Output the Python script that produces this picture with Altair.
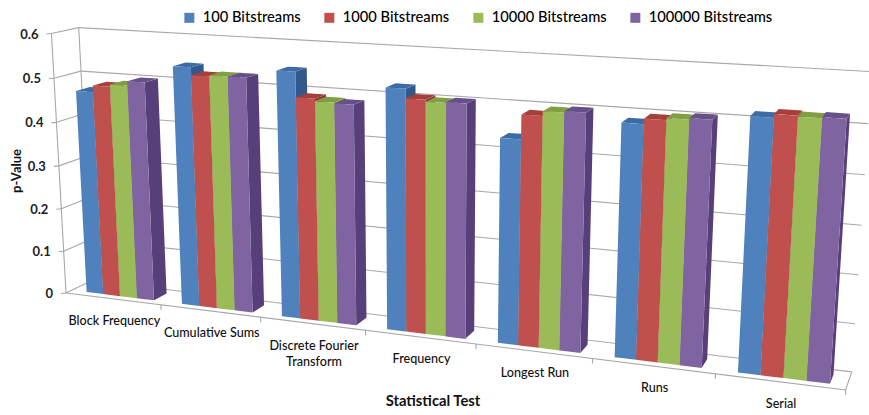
import numpy as np
import pandas as pd
import altair as alt

# Chart values
categories = ["Block Frequency", "Cumulative Sums", "Discrete Fourier\nTransform",
              "Frequency", "Longest Run", "Runs", "Serial"]
series = ["100 Bitstreams", "1000 Bitstreams", "10000 Bitstreams", "100000 Bitstreams"]
v100 = [0.47, 0.54, 0.545, 0.524, 0.436, 0.485, 0.515]
v1000 = [0.485, 0.523, 0.49, 0.504, 0.487, 0.496, 0.522]
v10000 = [0.49, 0.525, 0.485, 0.50, 0.497, 0.50, 0.52]
v100000 = [0.50, 0.525, 0.483, 0.502, 0.50, 0.503, 0.522]
values = [v100, v1000, v10000, v100000]
ticks = [0, 0.1, 0.2, 0.3, 0.4, 0.5, 0.6]
tick_labels = ["0", "0.1", "0.2", "0.3", "0.4", "0.5", "0.6"]

front = ["#4f81bd", "#c0504d", "#9bbb59", "#8064a2"]
side = ["#33598c", "#8e3634", "#6f8a3c", "#57407a"]
top = ["#3c6ba6", "#a63f3c", "#7f9f42", "#66508a"]

# Perspective camera for the 3D box: (category, p-value, depth) -> page position.
# Depth 0 is the front edge of the floor, depth 1 is the back wall.
anchors = [
    ((0, 0.0, 0), (69, 293)), ((0, 0.1, 0), (63, 250)), ((0, 0.2, 0), (60, 207)),
    ((0, 0.5, 0), (53, 78)), ((0, 0.6, 0), (50, 34)),
    ((0, 0.0, 1), (90, 281)), ((0, 0.1, 1), (88, 241)), ((0, 0.5, 1), (83, 71)),
    ((0, 0.6, 1), (80, 28)),
    ((1, 0, 0), (163, 305)), ((2, 0, 0), (262, 317)), ((3, 0, 0), (365, 330)),
    ((4, 0, 0), (476, 345)), ((5, 0, 0), (592, 360)), ((6, 0, 0), (713, 375)),
    ((7, 0, 0), (847, 390)),
    ((7, 0.0, 1), (852, 370)), ((7, 0.1, 1), (855, 323)), ((7, 0.4, 1), (865, 174)),
    ((7, 0.5, 1), (869, 124)), ((7, 0.6, 1), (871, 72)),
]


def fit_camera(pairs):
    rows = []
    for (c, p, d), (u, v) in pairs:
        h = [c / 7, p / 0.6, d, 1]
        u, v = u / 1000, v / 1000
        rows.append(h + [0, 0, 0, 0] + [-u * a for a in h])
        rows.append([0, 0, 0, 0] + h + [-v * a for a in h])
    return np.linalg.svd(np.array(rows))[2][-1].reshape(3, 4)


CAM = fit_camera(anchors)


def project(c, p, d):
    q = CAM @ np.array([c / 7, p / 0.6, d, 1])
    return (1000 * q[0] / q[2], 1000 * q[1] / q[2])


BAR_START = 0.16
BAR_WIDTH = 0.178
DEPTH_A, DEPTH_B = 0.22, 0.74


def polygon_rows(points, name, part):
    """Turn a convex polygon into x / y / y2 rows for an area mark."""
    xs = sorted({round(p[0], 3) for p in points})
    rows = []
    n = len(points)
    for x in xs:
        hits = []
        for k in range(n):
            (x0, y0), (x1, y1) = points[k], points[(k + 1) % n]
            if min(x0, x1) - 0.002 <= x <= max(x0, x1) + 0.002:
                if abs(x1 - x0) < 1e-6:
                    hits += [y0, y1]
                else:
                    hits.append(y0 + (y1 - y0) * (x - x0) / (x1 - x0))
        rows.append({"x": x, "y": min(hits), "y2": max(hits), "face": name, "part": part})
    return rows


faces = []
for i in range(len(categories)):
    for j, name in enumerate(series):
        v = values[j][i]
        c0 = i + BAR_START + j * BAR_WIDTH
        c1 = c0 + BAR_WIDTH
        fid = f"{i}-{j}"
        side_face = [project(c1, 0, DEPTH_A), project(c1, v, DEPTH_A),
                     project(c1, v, DEPTH_B), project(c1, 0, DEPTH_B)]
        top_face = [project(c0, v, DEPTH_A), project(c1, v, DEPTH_A),
                    project(c1, v, DEPTH_B), project(c0, v, DEPTH_B)]
        front_face = [project(c0, 0, DEPTH_A), project(c1, 0, DEPTH_A),
                      project(c1, v, DEPTH_A), project(c0, v, DEPTH_A)]
        faces += polygon_rows(side_face, fid + "s", name + " side")
        faces += polygon_rows(top_face, fid + "t", name + " top")
        faces += polygon_rows(front_face, fid + "f", name)

# Wall, floor and axis lines
rules = []


def add_rule(a, b):
    rules.append({"x": a[0], "y": a[1], "x2": b[0], "y2": b[1]})


for t in ticks:
    add_rule(project(0, t, 0), project(0, t, 1))
    add_rule(project(0, t, 1), project(7, t, 1))
    a = project(0, t, 0)
    add_rule((a[0] - 5, a[1] + 0.5), a)
add_rule(project(0, 0, 0), project(0, 0.6, 0))
add_rule(project(0, 0, 1), project(0, 0.6, 1))
add_rule(project(0, 0, 0), project(7, 0, 0))
add_rule(project(7, 0, 0), project(7, 0, 1))
for i in range(1, 8):
    a = project(i, 0, 0)
    add_rule(a, (a[0], a[1] + 5))

value_labels = []
for t, lab in zip(ticks, tick_labels):
    a = project(0, t, 0)
    value_labels.append({"x": a[0] - 13, "y": a[1] + 1, "text": lab})

cat_labels = []
for i, lab in enumerate(categories):
    a = project(i + 0.5, 0, 0)
    cat_labels.append({"x": a[0] + 1.5, "y": a[1] + 16, "text": lab})

X = alt.X("x:Q", scale=alt.Scale(domain=[0, 869], nice=False, zero=False), axis=None)
Y = alt.Y("y:Q", scale=alt.Scale(domain=[415, 0], nice=False, zero=False), axis=None, stack=None)

color_domain = []
color_range = []
for j, name in enumerate(series):
    color_domain += [name, name + " side", name + " top"]
    color_range += [front[j], side[j], top[j]]

FONT = "Lato"

grid = alt.Chart(pd.DataFrame(rules)).mark_rule(color="#a8a8a8", strokeWidth=1.1, clip=True).encode(
    x=X, y=Y, x2="x2:Q", y2="y2:Q")

bars = alt.Chart(pd.DataFrame(faces)).mark_area(strokeWidth=0).encode(
    x=X, y=Y, y2="y2:Q", detail="face:N",
    color=alt.Color("part:N",
                    scale=alt.Scale(domain=color_domain, range=color_range),
                    legend=alt.Legend(values=series, title=None, orient="none",
                                      legendX=182, legendY=10, direction="horizontal",
                                      columns=4, symbolType="square", symbolSize=100,
                                      labelFont=FONT, labelFontSize=14.7, labelColor="#000000",
                                      labelFontWeight=500, columnPadding=21, labelOffset=6,
                                      symbolStrokeWidth=0)))

value_text = alt.Chart(pd.DataFrame(value_labels)).mark_text(
    align="right", baseline="middle", font=FONT, fontSize=13, fontWeight="bold", color="#222222"
).encode(x=X, y=Y, text="text:N")

cat_text = alt.Chart(pd.DataFrame(cat_labels)).mark_text(
    align="center", baseline="top", lineBreak="\n", lineHeight=16, font=FONT, fontSize=12.6,
    fontWeight=500, color="#111111"
).encode(x=X, y=Y, text="text:N")

y_title = alt.Chart(pd.DataFrame({"text": ["p-Value"]})).mark_text(
    angle=270, align="center", baseline="middle", font=FONT, fontSize=13, fontWeight="bold", color="#111111"
).encode(x=alt.value(17), y=alt.value(171), text="text:N")

x_title = alt.Chart(pd.DataFrame({"text": ["Statistical Test"]})).mark_text(
    align="center", baseline="middle", font=FONT, fontSize=14.8, fontWeight="bold", color="#111111"
).encode(x=alt.value(433), y=alt.value(402), text="text:N")

chart = alt.layer(grid, bars, value_text, cat_text, y_title, x_title).properties(
    width=869, height=415, padding=0,
    autosize=alt.AutoSizeParams(type="none"),
).configure_view(stroke=None)

chart.save("out.html", embed_options={"renderer": "svg", "actions": False})
